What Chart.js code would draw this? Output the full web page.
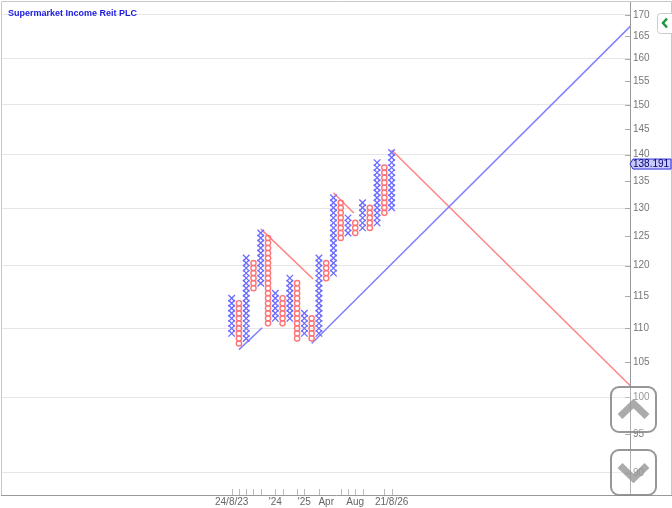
<!DOCTYPE html>
<html>
<head>
<meta charset="utf-8">
<script src="https://cdn.jsdelivr.net/npm/chart.js@4.4.1/dist/chart.umd.min.js"></script>
<style>
    html, body { margin: 0; padding: 0; background: #fff; }
</style>
</head>
<body>
<canvas id="graficoPF" width="672" height="508"></canvas>
<script>
const chartTitle = 'Supermarket Income Reit PLC';

// point & figure columns, box levels
const colTypes = ['X','O','X','O','X','O','X','O','X','O','X','O','X','O','X','O','X','O','X','O','X','O','X'];
const colLow   = [2, 0, 1, 11, 12, 4, 5, 4, 5, 1, 2, 1, 2, 13, 14, 21, 22, 22, 23, 23, 24, 26, 27];
const colHigh  = [9, 8, 17, 16, 22, 21, 10, 9, 13, 12, 6, 5, 17, 16, 29, 28, 25, 24, 28, 27, 36, 35, 38];
const basePrice = 107.72;
const boxPct = 0.7;
const lastPrice = 138.191;

// trend lines: [startCol, startPrice, endCol, endPrice]
const supportLines = [[1, 106.8, 4.2, 110.1], [11, 107.7, 55, 167.6]];
const resistLines = [[4, 126.3, 11.2, 117.8], [14, 132.8, 16.8, 129.1], [22, 140.9, 55, 101.4]];

const xTickCols = [0, 1, 2, 3, 4, 6, 7, 9, 10, 12, 15, 16, 17, 18, 21, 22];
const xLabelCols = [0, 6, 10, 13, 17, 22];
const xLabels = ['24/8/23', "'24", "'25", 'Apr', 'Aug', '21/8/26'];
const yTicks = [90, 95, 100, 105, 110, 115, 120, 125, 130, 135, 140, 145, 150, 155, 160, 165, 170];

function boxPrice(level) {
    return basePrice * Math.pow(1 + boxPct / 100, level);
}

let xPoints = [];
let oPoints = [];
colTypes.forEach((tipo, i) => {
    for (let lv = colLow[i]; lv <= colHigh[i]; lv++) {
        let p = { x: i, y: boxPrice(lv) };
        if (tipo === 'X') xPoints.push(p); else oPoints.push(p);
    }
});

function lineSet(l, cor) {
    return {
        data: [{ x: l[0], y: l[1] }, { x: l[2], y: l[3] }],
        showLine: true,
        borderColor: cor,
        borderWidth: 1.5,
        pointRadius: 0,
        order: 2
    };
}

function roundRect(ctx, x, y, w, h, r) {
    ctx.beginPath();
    ctx.moveTo(x + r, y);
    ctx.arcTo(x + w, y, x + w, y + h, r);
    ctx.arcTo(x + w, y + h, x, y + h, r);
    ctx.arcTo(x, y + h, x, y, r);
    ctx.arcTo(x, y, x + w, y, r);
    ctx.closePath();
}

/*------------------------extras: frame, title, ticks, buttons---------------------------------*/
const extras = {
    id: 'extras',
    beforeDraw(chart) {
        const ctx = chart.ctx;
        ctx.save();
        ctx.fillStyle = '#fff';
        ctx.fillRect(0, 0, chart.width, chart.height);
        ctx.restore();
    },
    afterDraw(chart) {
        const ctx = chart.ctx;
        const a = chart.chartArea;
        const sx = chart.scales.x;
        const sy = chart.scales.y;
        ctx.save();

        // outer frame
        ctx.strokeStyle = '#c8c8c8';
        ctx.lineWidth = 1;
        ctx.beginPath();
        ctx.moveTo(1.5, a.bottom);
        ctx.lineTo(1.5, 1.5);
        ctx.lineTo(671.5, 1.5);
        ctx.lineTo(671.5, a.bottom);
        ctx.stroke();
        ctx.strokeStyle = '#999';
        ctx.beginPath();
        ctx.moveTo(1, a.bottom + 0.5);
        ctx.lineTo(672, a.bottom + 0.5);
        ctx.stroke();

        ctx.fillStyle = '#1a1ae0';
        ctx.font = 'bold 9px Arial, "Liberation Sans"';
        ctx.textBaseline = 'alphabetic';
        ctx.fillText(chartTitle, 8, 16);

        ctx.strokeStyle = '#bbb';
        xTickCols.forEach(c => {
            let px = Math.round(sx.getPixelForValue(c)) + 0.5;
            ctx.beginPath();
            ctx.moveTo(px, a.bottom - 6);
            ctx.lineTo(px, a.bottom);
            ctx.stroke();
        });

        ctx.strokeStyle = '#aaa';
        yTicks.forEach(v => {
            let py = Math.round(sy.getPixelForValue(v)) + 0.5;
            ctx.beginPath();
            ctx.moveTo(a.right - 5, py);
            ctx.lineTo(a.right, py);
            ctx.stroke();
        });

        // last price tag
        let py = sy.getPixelForValue(lastPrice);
        ctx.beginPath();
        ctx.moveTo(a.right, py);
        ctx.lineTo(a.right + 3, py - 5);
        ctx.lineTo(671, py - 5);
        ctx.lineTo(671, py + 5);
        ctx.lineTo(a.right + 3, py + 5);
        ctx.closePath();
        ctx.fillStyle = '#c9c9ff';
        ctx.fill();
        ctx.strokeStyle = '#2a2ad8';
        ctx.stroke();
        ctx.fillStyle = '#00006a';
        ctx.font = '10px Arial, "Liberation Sans"';
        ctx.textBaseline = 'middle';
        ctx.fillText(lastPrice.toFixed(3), a.right + 3, py + 0.5);

        // green toggle
        roundRect(ctx, 657.5, 13.5, 20, 20, 3);
        ctx.fillStyle = '#fff';
        ctx.fill();
        ctx.strokeStyle = '#ccc';
        ctx.stroke();
        ctx.strokeStyle = '#1d9a3c';
        ctx.lineWidth = 2.5;
        ctx.beginPath();
        ctx.moveTo(667, 18.5);
        ctx.lineTo(663, 23);
        ctx.lineTo(667, 27.5);
        ctx.stroke();

        // scroll buttons
        [[387, -1], [450, 1]].forEach(b => {
            roundRect(ctx, 611, b[0], 45, 45, 8);
            ctx.fillStyle = 'rgba(255,255,255,0.25)';
            ctx.fill();
            ctx.strokeStyle = 'rgba(140,140,140,0.9)';
            ctx.lineWidth = 2;
            ctx.stroke();
            let cy = b[0] + 22.5;
            ctx.strokeStyle = 'rgba(150,150,150,0.8)';
            ctx.lineWidth = 7;
            ctx.beginPath();
            ctx.moveTo(620, cy - 7 * b[1]);
            ctx.lineTo(633.5, cy + 6 * b[1]);
            ctx.lineTo(647, cy - 7 * b[1]);
            ctx.stroke();
        });

        ctx.restore();
    }
};
/*-------------------------------------------------------------------*/

const ctxPF = document.getElementById('graficoPF');
new Chart(ctxPF, {
    type: 'scatter',
    data: {
        datasets: [
            {
                label: 'X',
                data: xPoints,
                pointStyle: 'crossRot',
                pointRadius: 4.6,
                borderColor: '#6a6aff',
                borderWidth: 1.3,
                order: 1
            },
            {
                label: 'O',
                data: oPoints,
                pointStyle: 'circle',
                pointRadius: 2.6,
                borderColor: '#ff7474',
                backgroundColor: 'rgba(255,255,255,0)',
                borderWidth: 1.4,
                order: 1
            },
            ...supportLines.map(l => lineSet(l, '#8080ff')),
            ...resistLines.map(l => lineSet(l, '#ff8484'))
        ]
    },
    options: {
        responsive: false,
        animation: false,
        devicePixelRatio: 1,
        layout: { autoPadding: false, padding: { left: 1, top: 1, right: 0, bottom: 0 } },
        plugins: {
            legend: { display: false },
            tooltip: { enabled: false }
        },
        scales: {
            x: {
                type: 'linear',
                bounds: 'data',
                min: -31.73,
                max: 54.79,
                afterBuildTicks: scale => { scale.ticks = xLabelCols.map(v => ({ value: v })); },
                afterFit: scale => {
                    scale.height = 13;
                    scale.paddingLeft = 0;
                    scale.paddingRight = 0;
                },
                grid: { display: false, drawTicks: false },
                border: { display: false },
                ticks: {
                    autoSkip: false,
                    maxRotation: 0,
                    padding: 1,
                    color: '#666',
                    font: { family: 'Arial, "Liberation Sans"', size: 10 },
                    callback: (v, i) => xLabels[i]
                }
            },
            y: {
                type: 'logarithmic',
                position: 'right',
                bounds: 'data',
                min: 87.28,
                max: 173.3,
                afterBuildTicks: scale => { scale.ticks = yTicks.map(v => ({ value: v })); },
                afterFit: scale => {
                    scale.width = 42;
                    scale.paddingTop = 0;
                    scale.paddingBottom = 0;
                },
                grid: {
                    drawTicks: false,
                    color: c => (c.tick && c.tick.value % 10 === 0) ? '#e6e6e6' : 'rgba(0,0,0,0)'
                },
                border: { display: true, color: '#999' },
                ticks: {
                    padding: 3,
                    color: '#777',
                    font: { family: 'Arial, "Liberation Sans"', size: 10 },
                    callback: v => String(v)
                }
            }
        }
    },
    plugins: [extras]
});
</script>
</body>
</html>
